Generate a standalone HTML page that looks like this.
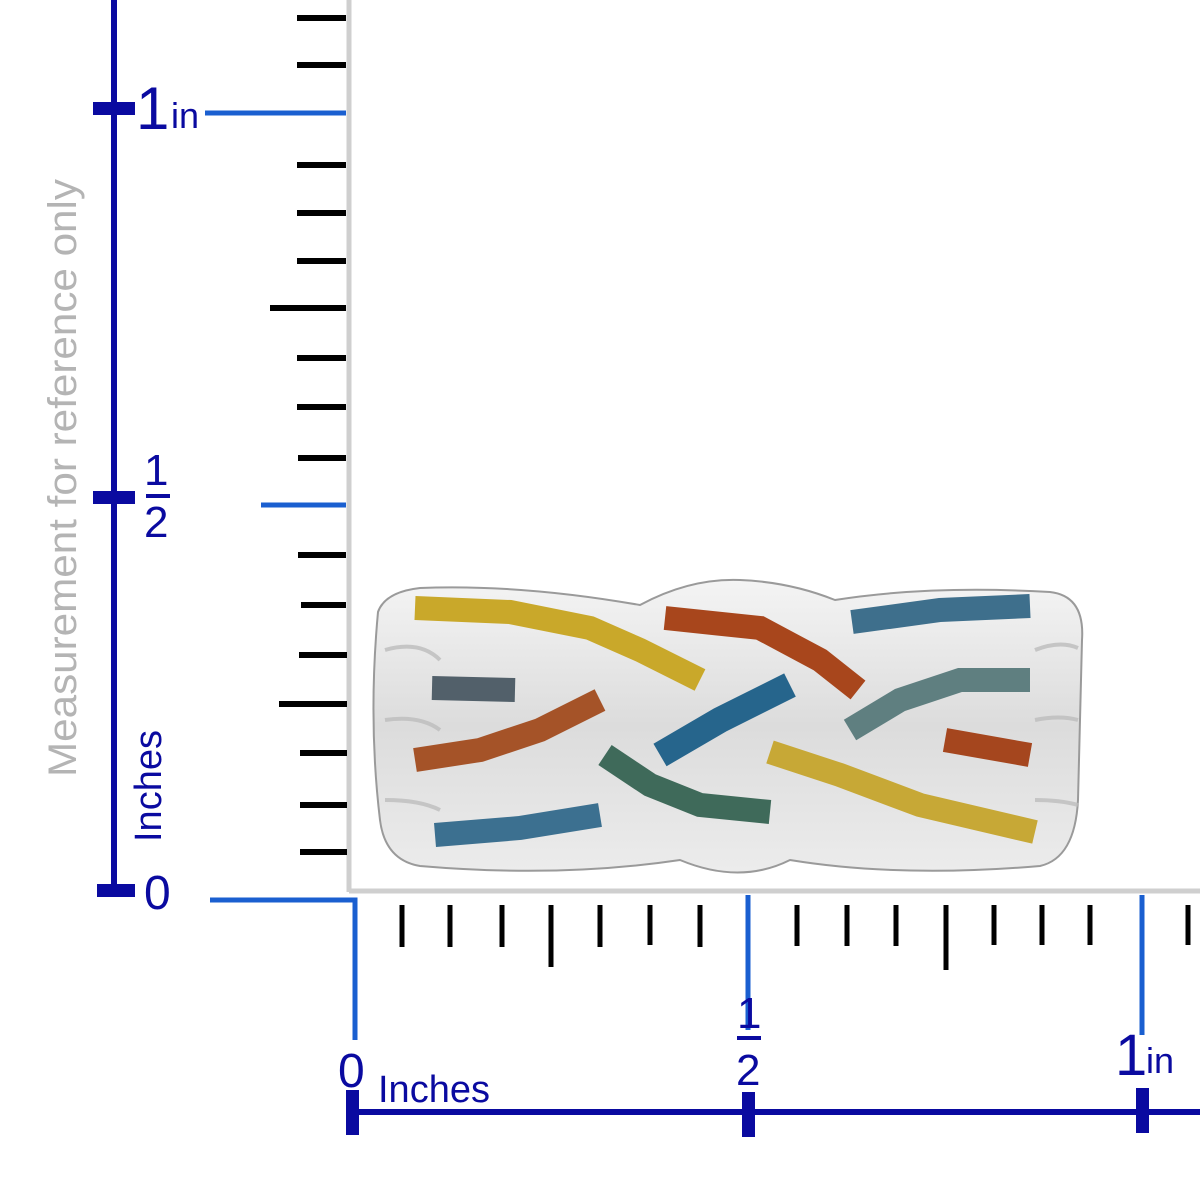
<!DOCTYPE html>
<html><head><meta charset="utf-8"><style>
html,body{margin:0;padding:0;background:#fff;width:1200px;height:1200px;overflow:hidden}
text{font-family:"Liberation Sans",Arial,sans-serif}
</style></head><body>
<svg width="1200" height="1200" viewBox="0 0 1200 1200" xmlns="http://www.w3.org/2000/svg">
<defs>
<linearGradient id="sil" x1="0" y1="0" x2="0" y2="1">
<stop offset="0" stop-color="#f4f4f4"/><stop offset="0.5" stop-color="#dcdcdc"/><stop offset="1" stop-color="#ececec"/>
</linearGradient>
</defs>
<line x1="349" y1="0" x2="349" y2="892" stroke="#cfcfcf" stroke-width="5"/>
<line x1="349" y1="891" x2="1200" y2="891" stroke="#cfcfcf" stroke-width="5"/>

<g stroke="#000" stroke-width="6">
<line x1="297" y1="18" x2="346" y2="18"/>
<line x1="297" y1="65" x2="346" y2="65"/>
<line x1="297" y1="165" x2="346" y2="165"/>
<line x1="297" y1="213" x2="346" y2="213"/>
<line x1="297" y1="261" x2="346" y2="261"/>
<line x1="270" y1="308" x2="346" y2="308"/>
<line x1="297" y1="358" x2="346" y2="358"/>
<line x1="297" y1="407" x2="346" y2="407"/>
<line x1="298" y1="458" x2="346" y2="458"/>
<line x1="298" y1="555" x2="346" y2="555"/>
<line x1="301" y1="605" x2="346" y2="605"/>
<line x1="299" y1="655" x2="347" y2="655"/>
<line x1="279" y1="704" x2="347" y2="704"/>
<line x1="300" y1="753" x2="347" y2="753"/>
<line x1="300" y1="805" x2="347" y2="805"/>
<line x1="300" y1="852" x2="347" y2="852"/>
</g>
<g stroke="#1a5fd0" stroke-width="5" fill="none">
<line x1="205" y1="113" x2="346" y2="113"/>
<line x1="261" y1="505" x2="346" y2="505"/>
<polyline points="210,900 355,900 355,1040"/>
<line x1="748" y1="895" x2="748" y2="1030"/>
<line x1="1142" y1="895" x2="1142" y2="1035"/>
</g>
<g stroke="#000" stroke-width="5">
<line x1="402" y1="905" x2="402" y2="947"/>
<line x1="450" y1="905" x2="450" y2="947"/>
<line x1="502" y1="905" x2="502" y2="947"/>
<line x1="551" y1="905" x2="551" y2="967"/>
<line x1="600" y1="905" x2="600" y2="947"/>
<line x1="650" y1="905" x2="650" y2="945"/>
<line x1="700" y1="905" x2="700" y2="947"/>
<line x1="797" y1="905" x2="797" y2="946"/>
<line x1="847" y1="905" x2="847" y2="946"/>
<line x1="896" y1="905" x2="896" y2="946"/>
<line x1="946" y1="905" x2="946" y2="970"/>
<line x1="994" y1="905" x2="994" y2="945"/>
<line x1="1042" y1="905" x2="1042" y2="945"/>
<line x1="1090" y1="905" x2="1090" y2="945"/>
<line x1="1188" y1="905" x2="1188" y2="945"/>
</g>

<g fill="#0a0aa0">
<rect x="111" y="0" width="6" height="892"/>
<rect x="93" y="102" width="42" height="13"/>
<rect x="93" y="491" width="42" height="13"/>
<rect x="97" y="884" width="38" height="13"/>
<rect x="352" y="1109" width="848" height="6"/>
<rect x="346" y="1090" width="13" height="45"/>
<rect x="742" y="1092" width="13" height="45"/>
<rect x="1136" y="1088" width="13" height="45"/>
</g>
<g fill="#0a0aa0">
<text x="136" y="129" font-size="60">1</text>
<text x="171" y="128" font-size="36">in</text>
<text x="144" y="485" font-size="44">1</text>
<rect x="146" y="494" width="24" height="4"/>
<text x="144" y="537" font-size="44">2</text>
<text x="144" y="909" font-size="48">0</text>
<text transform="translate(161,842) rotate(-90)" font-size="38">Inches</text>
<text x="338" y="1087" font-size="48">0</text>
<text x="378" y="1102" font-size="38">Inches</text>
<text x="737" y="1028" font-size="44">1</text>
<rect x="737" y="1036" width="24" height="4"/>
<text x="736" y="1085" font-size="44">2</text>
<text x="1115" y="1075" font-size="58">1</text>
<text x="1146" y="1073" font-size="36">in</text>
</g>
<text transform="translate(76,777) rotate(-90)" font-size="40" fill="#b4b4b4" textLength="598" lengthAdjust="spacingAndGlyphs">Measurement for reference only</text>

<!-- ring -->
<path d="M378,612 Q385,592 420,588 Q520,584 640,605 Q690,578 740,580 Q790,582 835,600 Q930,585 1050,592 Q1085,596 1082,640 L1078,800 Q1075,858 1040,866 Q900,878 790,860 Q740,885 680,860 Q560,878 420,866 Q385,860 380,820 Q368,720 378,612 Z" fill="url(#sil)" stroke="#9a9a9a" stroke-width="2"/>
<g fill="none" stroke="#bdbdbd" stroke-width="4" opacity="0.8">
<path d="M385,650 Q420,640 440,660"/><path d="M385,720 Q420,715 440,730"/><path d="M385,800 Q420,800 440,810"/>
<path d="M1035,650 Q1060,640 1078,648"/><path d="M1035,720 Q1060,715 1078,720"/><path d="M1035,800 Q1060,800 1078,805"/>
</g>
<g fill="none" stroke-linecap="butt">
<polyline points="415,608 510,612 590,628 640,650 700,680" stroke="#c9a82a" stroke-width="24"/>
<polyline points="665,618 760,628 820,660 858,690" stroke="#a8461c" stroke-width="24"/>
<polyline points="852,622 940,610 1030,606" stroke="#3e6f8c" stroke-width="24"/>
<polyline points="432,688 515,690" stroke="#52606a" stroke-width="24"/>
<polyline points="415,760 480,750 540,730 600,700" stroke="#a55328" stroke-width="24"/>
<polyline points="660,755 720,720 790,685" stroke="#26658c" stroke-width="26"/>
<polyline points="850,730 900,700 960,680 1030,680" stroke="#5f7f80" stroke-width="24"/>
<polyline points="945,740 1030,755" stroke="#a5461e" stroke-width="24"/>
<polyline points="605,755 650,785 700,805 770,812" stroke="#3f6a5a" stroke-width="24"/>
<polyline points="770,752 840,775 920,805 1035,832" stroke="#c7a836" stroke-width="24"/>
<polyline points="435,835 520,828 600,815" stroke="#3c7090" stroke-width="24"/>
</g>
</svg>
</body></html>
